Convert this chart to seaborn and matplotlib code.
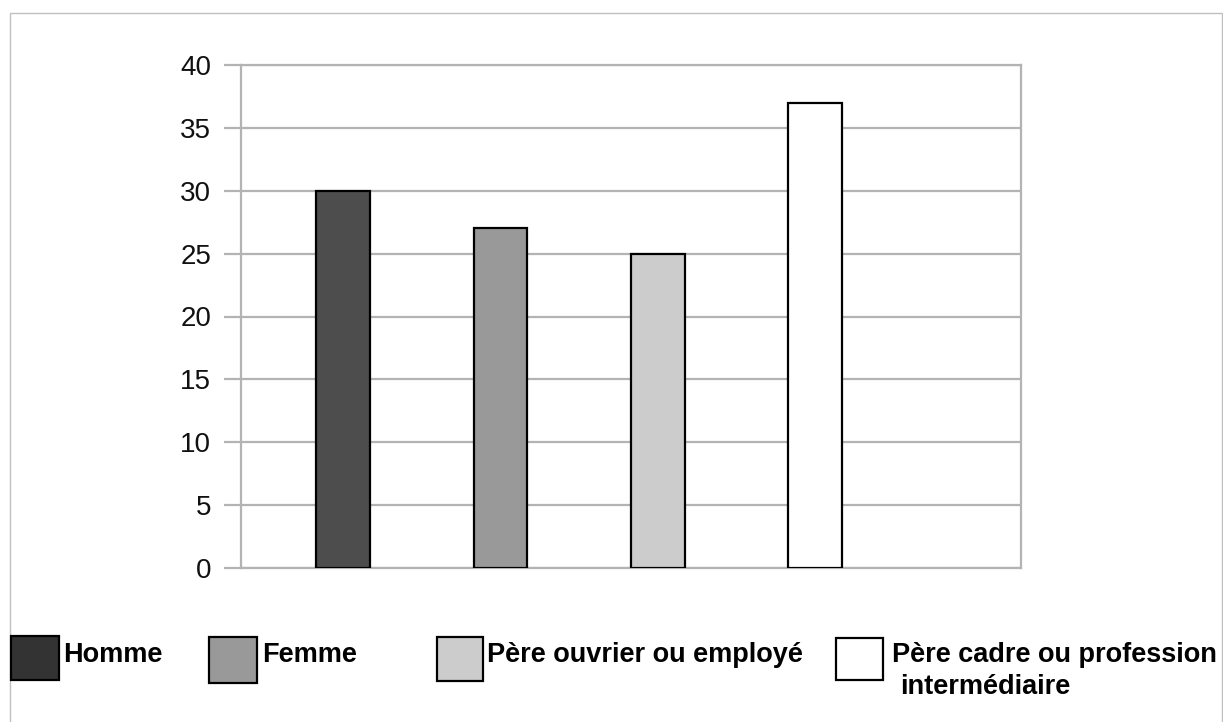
import matplotlib
matplotlib.use("Agg")
import matplotlib.pyplot as plt
import seaborn as sns
import pandas as pd
from matplotlib.patches import Rectangle

categories = ["Homme", "Femme", "Père ouvrier ou employé", "Père cadre ou profession intermédiaire"]
values = [30, 27, 25, 37]
bar_colors = ["#4d4d4d", "#999999", "#cccccc", "#ffffff"]
legend_colors = ["#333333", "#999999", "#cccccc", "#ffffff"]
legend_labels = ["Homme", "Femme", "Père ouvrier ou employé", "Père cadre ou profession"]
legend_line2 = "intermédiaire"
yticks = [0, 5, 10, 15, 20, 25, 30, 35, 40]

sns.set_theme(style="white")
plt.rcParams["font.family"] = ["Liberation Sans", "DejaVu Sans"]

W, H = 1223, 722
fig = plt.figure(figsize=(W / 100, H / 100), dpi=100)
fig.patch.set_facecolor("white")

# outer border
fig.patches.append(Rectangle((10 / W, -0.01), 1212 / W, (H - 13) / H + 0.01,
                             transform=fig.transFigure, fill=False,
                             edgecolor="#c0c0c0", linewidth=1.0))

ax = fig.add_axes([241 / W, (H - 568) / H, 780 / W, 503 / H])
df = pd.DataFrame({"cat": categories, "val": values})
sns.barplot(data=df, x="cat", y="val", hue="cat", palette=bar_colors,
            width=0.343, edgecolor="black", linewidth=1.6, legend=False,
            ax=ax, zorder=3)

ax.set_xlim(-0.65, 4.31)
ax.set_ylim(0, 40)
ax.set_yticks(yticks)
ax.set_yticklabels([str(t) for t in yticks], fontsize=20, color="#111111")
ax.set_xticks([])
ax.set_xlabel("")
ax.set_ylabel("")
ax.yaxis.grid(True, color="#b3b3b3", linewidth=1.6, zorder=0)
ax.set_axisbelow(True)
ax.tick_params(axis="y", length=12.5, width=1.6, color="#b3b3b3", pad=9, left=True)
for s in ax.spines.values():
    s.set_color("#b3b3b3")
    s.set_linewidth(1.6)

# legend drawn manually
sq_x0 = [11, 209, 437, 836]
sq_x1 = [59, 257, 483, 883]
sq_y0 = [636, 637, 637, 638]
sq_y1 = [680, 683, 681, 680]
text_x = [63, 262, 487, 892]
for i in range(4):
    fig.patches.append(Rectangle((sq_x0[i] / W, (H - sq_y1[i]) / H),
                                 (sq_x1[i] - sq_x0[i]) / W, (sq_y1[i] - sq_y0[i]) / H,
                                 transform=fig.transFigure, facecolor=legend_colors[i],
                                 edgecolor="black", linewidth=1.6))
    fig.text(text_x[i] / W, (H - 662) / H, legend_labels[i], fontsize=19.5,
             fontweight="bold", ha="left", va="baseline", color="black")
fig.text(900 / W, (H - 694) / H, legend_line2, fontsize=19.5,
         fontweight="bold", ha="left", va="baseline", color="black")

fig.savefig("out.png", dpi=100, facecolor="white")
